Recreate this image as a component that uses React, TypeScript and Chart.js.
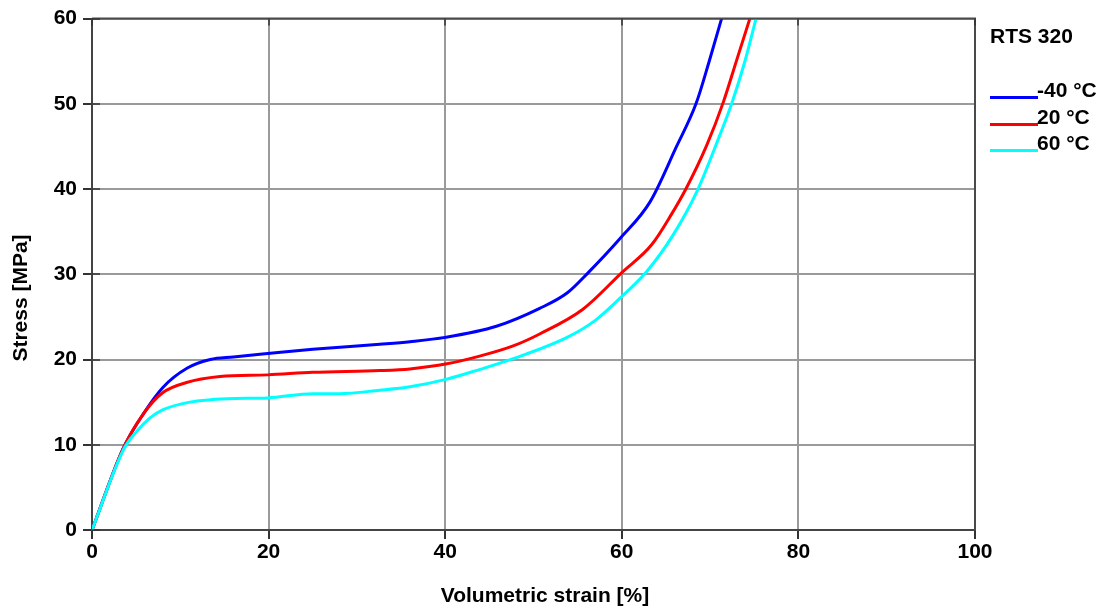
import React, { useEffect, useRef } from "react";
import { Chart, registerables } from "chart.js";

Chart.register(...registerables);

// ---- data ----
const legendTitle = "RTS 320";
const seriesLabels = ["-40 °C", "20 °C", "60 °C"];
const seriesColors = ["#0000ff", "#ff0000", "#00ffff"];

const strainM40 = [0, 3.5, 5.8, 8.0, 10.8, 13.4, 16, 19.9, 25, 32.6, 36, 40.0, 45.8, 50.7, 53.8, 56.2, 59.8, 63.2, 66.2, 68.4, 69.9, 71.3];
const stressM40 = [0, 9.5, 13.6, 16.7, 19.0, 20.0, 20.3, 20.7, 21.2, 21.8, 22.1, 22.6, 23.9, 26.0, 27.8, 30.2, 34.2, 38.5, 45.0, 50.0, 55.0, 60];

const strain20 = [0, 3.5, 5.8, 8.0, 10.7, 14.5, 19.9, 25, 32.6, 36, 40.2, 43.9, 47.7, 50.7, 55.6, 60.0, 63.4, 65.6, 67.3, 69.6, 71.5, 73.0, 74.5];
const stress20 = [0, 9.5, 13.6, 16.1, 17.3, 18.0, 18.2, 18.5, 18.7, 18.9, 19.5, 20.4, 21.6, 23.0, 25.9, 30.2, 33.5, 37.0, 40.1, 45.1, 50.2, 55.1, 60];

const strain60 = [0, 3.6, 5.0, 6.5, 8.0, 11.1, 15.3, 19.9, 25.0, 28, 32.6, 36, 40.2, 43.5, 47.7, 53.8, 57, 59.8, 62.8, 65.8, 68.5, 70.6, 72.5, 74.0, 75.2];
const stress60 = [0, 9.5, 11.5, 13.1, 14.1, 15.0, 15.4, 15.5, 16.0, 16.0, 16.4, 16.8, 17.7, 18.7, 20.1, 22.6, 24.6, 27.2, 30.3, 34.6, 39.7, 45.0, 50.2, 55.2, 60];

const xTitle = "Volumetric strain [%]";
const yTitle = "Stress [MPa]";
const xMin = 0, xMax = 100, xStep = 20;
const yMin = 0, yMax = 60, yStep = 10;

const FONT = "'Liberation Sans', Arial, sans-serif";

function pts(xs: number[], ys: number[]) {
  return xs.map((x, i) => ({ x, y: ys[i] }));
}

const decorPlugin = {
  id: "decor",
  afterDatasetsDraw(chart: any) {
    const { ctx, chartArea } = chart;
    const { left, right, top, bottom } = chartArea;
    const xs = chart.scales.x;
    const ys = chart.scales.y;
    ctx.save();
    // frame top/right
    ctx.strokeStyle = "#4a4a4a";
    ctx.lineWidth = 2;
    ctx.beginPath();
    ctx.moveTo(left, top);
    ctx.lineTo(right, top);
    ctx.lineTo(right, bottom);
    ctx.stroke();
    // inner ticks
    ctx.strokeStyle = "#333";
    ctx.lineWidth = 1.5;
    ys.ticks.forEach((t: any) => {
      const y = Math.round(ys.getPixelForValue(t.value));
      ctx.beginPath();
      ctx.moveTo(left, y);
      ctx.lineTo(left + 8, y);
      ctx.stroke();
    });
    xs.ticks.forEach((t: any) => {
      const x = Math.round(xs.getPixelForValue(t.value));
      ctx.beginPath();
      ctx.moveTo(x, top);
      ctx.lineTo(x, top + 7);
      ctx.stroke();
    });
    ctx.restore();
  },
  afterDraw(chart: any) {
    const { ctx } = chart;
    ctx.save();
    ctx.fillStyle = "#000";
    ctx.font = `bold 21px ${FONT}`;
    // axis titles
    ctx.textAlign = "center";
    ctx.textBaseline = "alphabetic";
    ctx.fillText(xTitle, 545, 602);
    ctx.save();
    ctx.translate(27, 298);
    ctx.rotate(-Math.PI / 2);
    ctx.fillText(yTitle, 0, 0);
    ctx.restore();
    // legend
    ctx.textAlign = "left";
    ctx.fillText(legendTitle, 990, 43);
    chart.data.datasets.forEach((ds: any, i: number) => {
      const y = 97 + i * 26.5;
      ctx.strokeStyle = ds.borderColor;
      ctx.lineWidth = 3;
      ctx.beginPath();
      ctx.moveTo(990, Math.round(y) + 0.5);
      ctx.lineTo(1038, Math.round(y) + 0.5);
      ctx.stroke();
      ctx.fillText(ds.label, 1037, Math.round(y));
    });
    ctx.restore();
  },
};

export default function App() {
  const ref = useRef<HTMLCanvasElement | null>(null);
  useEffect(() => {
    if (!ref.current) return;
    const allX = [strainM40, strain20, strain60];
    const allY = [stressM40, stress20, stress60];
    const chart = new Chart(ref.current, {
      type: "line",
      data: {
        datasets: seriesLabels.map((label, i) => ({
          label,
          data: pts(allX[i], allY[i]),
          borderColor: seriesColors[i],
          backgroundColor: seriesColors[i],
          borderWidth: 3,
          pointRadius: 0,
          order: seriesLabels.length - i,
          cubicInterpolationMode: "monotone" as const,
          fill: false,
        })),
      },
      options: {
        responsive: false,
        animation: false,
        layout: { padding: { left: 0, top: 16, right: 130, bottom: 0 } },
        plugins: {
          legend: { display: false },
          tooltip: { enabled: false },
          title: { display: false },
        },
        scales: {
          x: {
            type: "linear",
            min: xMin,
            max: xMax,
            ticks: {
              stepSize: xStep,
              color: "#000",
              font: { family: FONT, size: 21, weight: "bold" },
              padding: 1,
              maxRotation: 0,
            },
            grid: {
              color: "#9a9a9a",
              lineWidth: 2,
              tickLength: 9,
              tickColor: "#333",
              tickWidth: 2,
            },
            border: { color: "#444", width: 2 },
            afterFit: (s: any) => {
              s.height = 80;
            },
          },
          y: {
            type: "linear",
            min: yMin,
            max: yMax,
            ticks: {
              stepSize: yStep,
              color: "#000",
              font: { family: FONT, size: 21, weight: "bold" },
              padding: 6,
            },
            grid: {
              color: "#9a9a9a",
              lineWidth: 2,
              tickLength: 9,
              tickColor: "#333",
              tickWidth: 2,
            },
            border: { color: "#444", width: 2 },
            afterFit: (s: any) => {
              s.width = 92;
            },
          },
        },
      },
      plugins: [decorPlugin],
    });
    return () => chart.destroy();
  }, []);
  return (
    <div style={{ position: "absolute", left: 0, top: 0, width: 1105, height: 610, background: "#fff" }}>
      <canvas ref={ref} width={1105} height={610} />
    </div>
  );
}
